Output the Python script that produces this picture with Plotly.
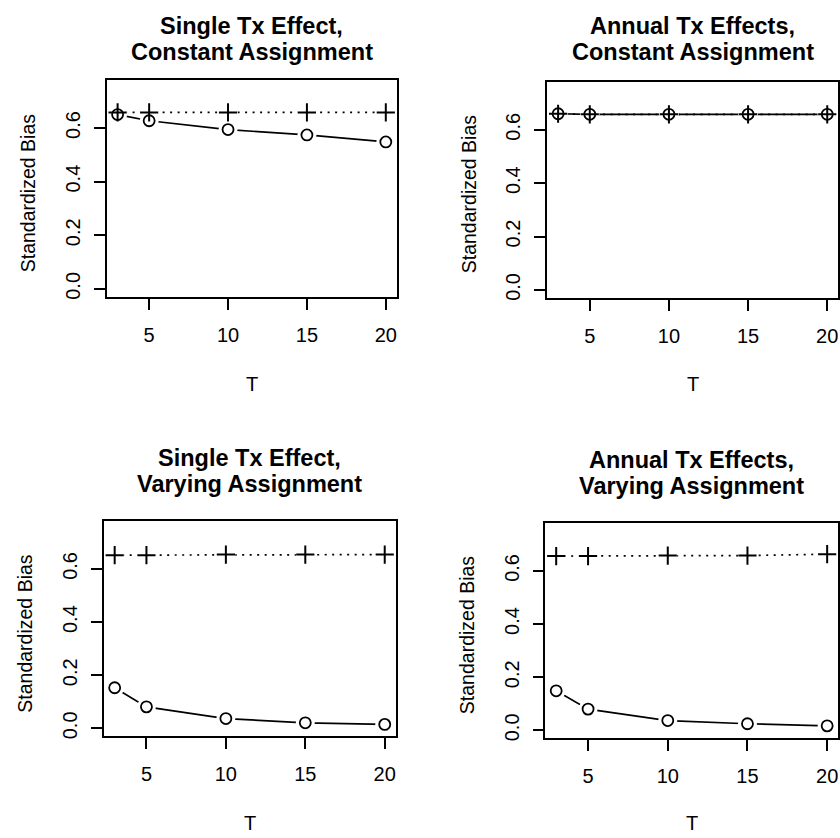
import plotly.graph_objects as go

T = [3, 5, 10, 15, 20]

titles = [
    ("Single Tx Effect,", "Constant Assignment"),
    ("Annual Tx Effects,", "Constant Assignment"),
    ("Single Tx Effect,", "Varying Assignment"),
    ("Annual Tx Effects,", "Varying Assignment"),
]

# circle series (solid line)
circ_tl = [0.650, 0.627, 0.594, 0.574, 0.548]
circ_tr = [0.660, 0.658, 0.658, 0.658, 0.658]
circ_bl = [0.153, 0.081, 0.037, 0.021, 0.015]
circ_br = [0.149, 0.080, 0.037, 0.025, 0.017]

# cross series (dotted line)
cross_tl = [0.658, 0.658, 0.658, 0.658, 0.658]
cross_tr = [0.660, 0.658, 0.658, 0.658, 0.658]
cross_bl = [0.652, 0.652, 0.654, 0.654, 0.654]
cross_br = [0.656, 0.656, 0.658, 0.658, 0.663]

circles = [circ_tl, circ_tr, circ_bl, circ_br]
crosses = [cross_tl, cross_tr, cross_bl, cross_br]

y_tickvals = [0.0, 0.2, 0.4, 0.6]
y_ticktext = ["0.0", "0.2", "0.4", "0.6"]
x_tickvals = [5, 10, 15, 20]
x_ticktext = ["5", "10", "15", "20"]

W, H = 840, 838
# panel boxes in pixels: (left, right, top, bottom)
boxes = [
    (107, 397, 80, 298),
    (548, 839, 82, 299),
    (104, 396, 523, 739),
    (546, 839, 525, 741),
]
title_y = [(26, 52), (26, 52), (460, 486), (462, 488)]
T_y = [385, 385, 826, 826]

FONT = "Liberation Sans, Arial, Helvetica, sans-serif"
fig = go.Figure()

for i in range(4):
    l, r, t, b = boxes[i]
    xa = "x" if i == 0 else f"x{i+1}"
    ya = "y" if i == 0 else f"y{i+1}"
    # lines
    fig.add_trace(go.Scatter(x=T, y=circles[i], mode="lines", xaxis=xa, yaxis=ya,
                             line=dict(color="black", width=1.7), showlegend=False))
    fig.add_trace(go.Scatter(x=T, y=crosses[i], mode="lines", xaxis=xa, yaxis=ya,
                             line=dict(color="black", width=1.7, dash="2px,5.5px"),
                             showlegend=False))
    # white gaps around points (R type="b")
    for s in (circles[i], crosses[i]):
        fig.add_trace(go.Scatter(x=T, y=s, mode="markers", xaxis=xa, yaxis=ya,
                                 marker=dict(symbol="circle", size=19, color="white",
                                             line=dict(width=0)),
                                 showlegend=False))
    # markers
    fig.add_trace(go.Scatter(x=T, y=circles[i], mode="markers", xaxis=xa, yaxis=ya,
                             marker=dict(symbol="circle", size=11, color="white",
                                         line=dict(color="black", width=1.8)),
                             showlegend=False))
    fig.add_trace(go.Scatter(x=T, y=crosses[i], mode="markers", xaxis=xa, yaxis=ya,
                             marker=dict(symbol="cross-thin", size=13,
                                         line=dict(color="black", width=2)),
                             showlegend=False))

    xkey = "xaxis" if i == 0 else f"xaxis{i+1}"
    ykey = "yaxis" if i == 0 else f"yaxis{i+1}"
    fig.layout[xkey] = dict(
        domain=[l / W, min(r / W, 1.0)], anchor=ya, range=[2.32, 20.68],
        tickmode="array", tickvals=x_tickvals, ticktext=x_ticktext,
        ticks="outside", ticklen=11, tickwidth=1.5, tickcolor="black",
        showline=True, mirror=True, linecolor="black", linewidth=1.7,
        showgrid=False, zeroline=False, ticklabelstandoff=8,
        tickfont=dict(family=FONT, size=20, color="black"),
    )
    fig.layout[ykey] = dict(
        domain=[1 - b / H, 1 - t / H], anchor=xa, range=[-0.03, 0.78],
        tickmode="array", tickvals=y_tickvals, ticktext=y_ticktext,
        ticks="outside", ticklen=11, tickwidth=1.5, tickcolor="black",
        showline=True, mirror=True, linecolor="black", linewidth=1.7,
        showgrid=False, zeroline=False, tickangle=-90, ticklabelstandoff=6,
        tickfont=dict(family=FONT, size=20, color="black"),
    )
    cx = (l + r) / 2
    for j, line in enumerate(titles[i]):
        fig.add_annotation(x=cx / W, y=1 - title_y[i][j] / H, xref="paper", yref="paper",
                           text=f"<b>{line}</b>", showarrow=False,
                           xanchor="center", yanchor="middle",
                           font=dict(family=FONT, size=23.5, color="black"))
    fig.add_annotation(x=cx / W, y=1 - T_y[i] / H, xref="paper", yref="paper",
                       text="T", showarrow=False, xanchor="center", yanchor="middle",
                       font=dict(family=FONT, size=20, color="black"))
    fig.add_annotation(x=(l - 79) / W, y=1 - ((t + b) / 2 + 4) / H, xref="paper", yref="paper",
                       text="Standardized Bias", showarrow=False, textangle=-90,
                       xanchor="center", yanchor="middle",
                       font=dict(family=FONT, size=19.5, color="black"))

fig.update_layout(width=W, height=H, margin=dict(l=0, r=0, t=0, b=0),
                  paper_bgcolor="white", plot_bgcolor="white")
fig.write_html("out.html", config={"displayModeBar": False},
               post_script="document.body.style.margin='0';"
                           "document.body.style.overflow='hidden';")
